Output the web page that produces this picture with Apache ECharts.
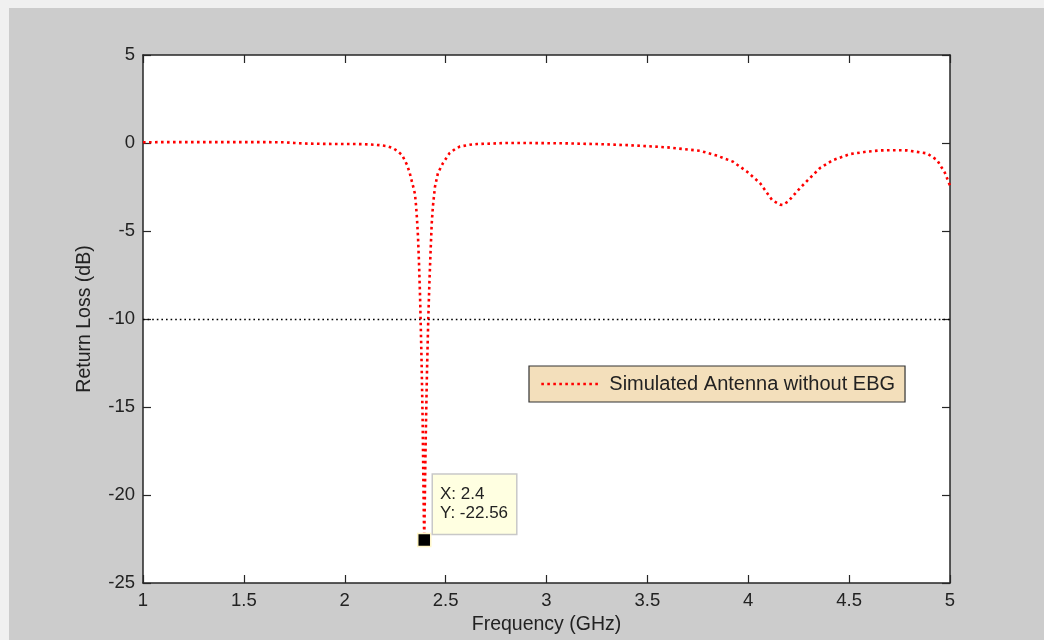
<!DOCTYPE html>
<html>
<head>
<meta charset="utf-8">
<script src="https://cdn.jsdelivr.net/npm/echarts@6/dist/echarts.min.js"></script>
<style>
html,body{margin:0;padding:0;background:#f0f0f0;}
#chart{width:1044px;height:640px;}
</style>
</head>
<body>
<div id="chart"></div>
<script>
// Frequency (GHz)
const freq = [1.0,1.1,1.2,1.3,1.4,1.5,1.6,1.7,1.75,1.8,1.9,2.0,2.05,2.1,2.15,2.18,2.21,2.24,2.26,2.284,2.309,2.322,2.333,2.342,2.348,2.353,2.358,2.363,2.368,2.373,2.376,2.381,2.386,2.389,2.392,2.394,2.396,2.399,2.403,2.408,2.414,2.420,2.426,2.431,2.437,2.447,2.462,2.487,2.52,2.55,2.571,2.62,2.656,2.75,2.8,2.9,3.0,3.1,3.2,3.25,3.4,3.5,3.6,3.7,3.76,3.84,3.924,3.994,4.058,4.118,4.157,4.17,4.197,4.256,4.296,4.356,4.42,4.504,4.589,4.653,4.72,4.787,4.886,4.936,4.975,5.0];
// Return loss (dB)
const returnLoss = [0.04,0.05,0.05,0.05,0.05,0.05,0.05,0.04,0.0,-0.03,-0.05,-0.06,-0.06,-0.07,-0.1,-0.13,-0.18,-0.3,-0.45,-0.68,-1.25,-1.7,-2.2,-2.6,-2.9,-3.5,-4.3,-5.3,-6.8,-8.6,-10.0,-12.5,-15.7,-18.5,-21.2,-22.56,-21.0,-18.5,-15.7,-12.8,-10.0,-7.8,-6.0,-4.6,-3.6,-2.5,-1.7,-1.14,-0.57,-0.32,-0.2,-0.1,-0.06,-0.02,0.0,0.0,-0.01,-0.02,-0.05,-0.06,-0.12,-0.18,-0.25,-0.37,-0.44,-0.7,-1.06,-1.63,-2.27,-3.24,-3.5,-3.52,-3.33,-2.57,-2.1,-1.42,-0.97,-0.63,-0.49,-0.42,-0.41,-0.42,-0.59,-0.97,-1.7,-2.42];
// Tick labels / annotation
const seriesName = 'Simulated Antenna without EBG';
const thresholdDb = -10;
const tipPoint = [2.394, -22.56];
const tipLabel = ['X: 2.4', 'Y: -22.56'];

const font = 'Liberation Sans, Arial, sans-serif';
const axisColor = '#262626';
const chart = echarts.init(document.getElementById('chart'));
const dataPairs = freq.map((f, i) => [f, returnLoss[i]]);

chart.setOption({
  backgroundColor: '#f0f0f0',
  animation: false,
  graphic: [{
    type: 'rect', z: -10, silent: true,
    shape: {x: 9, y: 8, width: 1035, height: 632},
    style: {fill: '#cccccc'}
  }],
  grid: {left: 143, top: 55, right: 94, bottom: 57, show: true, backgroundColor: '#ffffff', borderWidth: 0},
  legend: {
    left: 529, top: 366,
    padding: [8, 10, 8, 11],
    backgroundColor: '#f3dfbb',
    borderColor: '#333333', borderWidth: 1.2, borderRadius: 0,
    itemWidth: 58, itemHeight: 14,
    itemStyle: {opacity: 0},
    lineStyle: {color: '#ff0000', width: 2.6, type: [2.6, 3.4], cap: 'butt'},
    textStyle: {fontFamily: font, fontSize: 20, color: '#222', padding: [0, 0, 0, 5]},
    data: [{name: seriesName}]
  },
  xAxis: [{
    type: 'value', min: 1, max: 5, interval: 0.5, position: 'bottom',
    name: 'Frequency (GHz)', nameLocation: 'middle', nameGap: 32,
    nameTextStyle: {fontFamily: font, fontSize: 19.5, color: '#222'},
    axisLine: {show: true, onZero: false, lineStyle: {color: axisColor, width: 1.5}},
    axisTick: {show: true, inside: true, length: 8, lineStyle: {color: axisColor, width: 1.2}},
    axisLabel: {fontFamily: font, fontSize: 18.5, color: '#222', margin: 8},
    splitLine: {show: false}
  }, {
    type: 'value', min: 1, max: 5, interval: 0.5, position: 'top',
    axisLine: {show: true, onZero: false, lineStyle: {color: axisColor, width: 1.5}},
    axisTick: {show: true, inside: true, length: 8, lineStyle: {color: axisColor, width: 1.2}},
    axisLabel: {show: false}, splitLine: {show: false}
  }],
  yAxis: [{
    type: 'value', min: -25, max: 5, interval: 5, position: 'left',
    name: 'Return Loss (dB)', nameLocation: 'middle', nameGap: 48, nameRotate: 90,
    nameTextStyle: {fontFamily: font, fontSize: 19.5, color: '#222'},
    axisLine: {show: true, onZero: false, lineStyle: {color: axisColor, width: 1.5}},
    axisTick: {show: true, inside: true, length: 8, lineStyle: {color: axisColor, width: 1.2}},
    axisLabel: {fontFamily: font, fontSize: 18.5, color: '#222', margin: 8},
    splitLine: {show: false}
  }, {
    type: 'value', min: -25, max: 5, interval: 5, position: 'right',
    axisLine: {show: true, onZero: false, lineStyle: {color: axisColor, width: 1.5}},
    axisTick: {show: true, inside: true, length: 8, lineStyle: {color: axisColor, width: 1.2}},
    axisLabel: {show: false}, splitLine: {show: false}
  }],
  series: [{
    name: seriesName, type: 'line', xAxisIndex: 0, yAxisIndex: 0,
    data: dataPairs, showSymbol: false, symbol: 'none', smooth: false,
    lineStyle: {color: '#ff0000', width: 2.6, type: [2.6, 3.4], cap: 'butt'},
    itemStyle: {color: '#ff0000'},
    markLine: {
      silent: true, symbol: 'none', animation: false,
      label: {show: false},
      lineStyle: {color: '#000000', width: 1.3, type: [1.6, 3], cap: 'butt'},
      data: [{yAxis: thresholdDb}]
    },
    markPoint: {
      silent: true, animation: false,
      symbol: 'rect', symbolSize: 13,
      itemStyle: {color: '#000000', borderColor: '#fff6c8', borderWidth: 1.5},
      label: {
        show: true, position: [16, -58],
        formatter: tipLabel.join('\n'),
        fontFamily: font, fontSize: 17, color: '#222', lineHeight: 19,
        align: 'left', verticalAlign: 'top',
        backgroundColor: '#ffffe1', borderColor: '#c8c8c8', borderWidth: 1.5,
        padding: [10, 8, 11, 7]
      },
      data: [{coord: tipPoint}]
    }
  }]
});
</script>
</body>
</html>
